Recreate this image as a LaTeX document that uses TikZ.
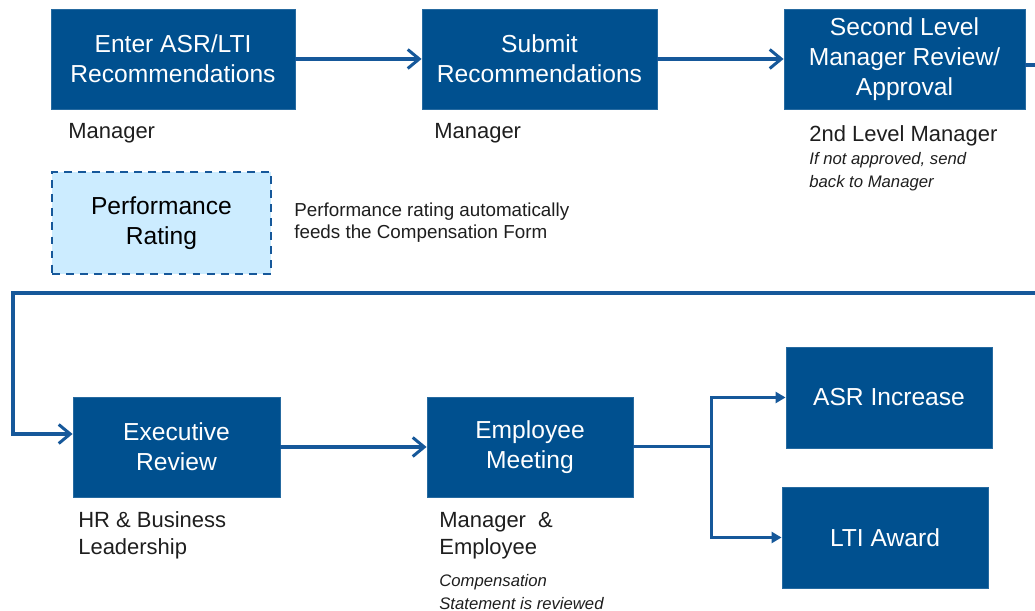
\documentclass[tikz,border=0pt]{standalone}
\usepackage{fontspec}
\setmainfont{Liberation Sans}
\usetikzlibrary{arrows.meta}

\definecolor{flowblue}{RGB}{0,80,143}
\definecolor{flowline}{RGB}{22,88,154}
\definecolor{ratingfill}{RGB}{204,236,255}
\definecolor{labeltext}{RGB}{30,30,30}

\tikzset{
  stepbox/.style={fill=flowblue, draw=flowblue!85!white, line width=0.5pt, text=white,
    align=center, inner sep=0pt, minimum height=2cm,
    font=\fontsize{14}{17}\selectfont},
  ratingbox/.style={fill=ratingfill, draw=flowline, line width=1.6pt,
    dash pattern=on 4.5pt off 3.5pt, align=center, inner sep=0pt,
    font=\fontsize{14}{17}\selectfont},
  who/.style={anchor=north west, inner sep=0pt, align=left, text=labeltext,
    font=\fontsize{12.5}{15.3}\selectfont},
  note/.style={anchor=north west, inner sep=0pt, align=left, text=labeltext,
    font=\fontsize{9.5}{13}\selectfont\itshape},
  flow/.style={draw=flowline, line width=1.9pt, -{Straight Barb[length=2.3mm,width=3.8mm,line width=1.7pt]}},
  split/.style={draw=flowline, line width=1.7pt, -{Triangle[length=2mm,width=2.2mm]}},
}

\begin{document}
\begin{tikzpicture}
\useasboundingbox (0,0) rectangle (20.7,12.22);

% Top row of steps
\node[stepbox, minimum width=4.88cm] (enter) at (3.46,11.04) {Enter ASR/LTI\\Recommendations};
\node[stepbox, minimum width=4.70cm] (submit) at (10.79,11.04) {Submit\\Recommendations};
\node[stepbox, minimum width=4.82cm] (second) at (18.09,11.04) {Second Level\\Manager Review/\\Approval};

% Rating feeds in (dashed)
\node[ratingbox, minimum width=4.38cm, minimum height=2.04cm] (rating) at (3.23,7.76) {Performance\\Rating};

% Bottom row of steps
\node[stepbox, minimum width=4.14cm] (exec) at (3.53,3.28) {Executive\\Review};
\node[stepbox, minimum width=4.12cm] (meeting) at (10.60,3.28) {Employee\\Meeting};
\node[stepbox, minimum width=4.12cm, minimum height=2.02cm] (asr) at (17.78,4.27) {ASR Increase};
\node[stepbox, minimum width=4.12cm, minimum height=2.02cm] (lti) at (17.70,1.47) {LTI Award};

% Who does each step
\node[who] (who1) at (1.36,9.76) {Manager};
\node[who] (who2) at (8.68,9.76) {Manager};
\node[who] (who3) at (16.18,9.72) {2nd Level Manager};
\node[note] (back) at (16.18,9.18) {If not approved, send\\back to Manager};
\node[anchor=north west, inner sep=0pt, align=left, text=labeltext, font=\fontsize{10.7}{12.5}\selectfont] (feeds)
  at (5.88,8.16) {Performance rating automatically\\feeds the Compensation Form};
\node[who] (who4) at (1.56,2.00) {HR \& Business\\Leadership};
\node[who] (who5) at (8.78,1.98) {Manager \ \&\\Employee};
\node[note] (stmt) at (8.78,0.74) {Compensation\\Statement is reviewed};

% Connectors
\coordinate (edge) at (21.2,10.92);
\coordinate (fork) at (14.22,3.28);
\draw[flow] (enter) -- (submit);
\draw[flow] (submit) -- (second);
\draw[flow] ([yshift=-0.12cm]second.east) -- (edge) |- (0.26,6.36) |- ([yshift=0.26cm]exec.west);
\draw[flow] (exec) -- (meeting);
\draw[draw=flowline, line width=1.7pt] (meeting.east) -- (fork);
\draw[split] (fork) |- (asr.west);
\draw[split] (fork) |- (lti.west);
\end{tikzpicture}
\end{document}
